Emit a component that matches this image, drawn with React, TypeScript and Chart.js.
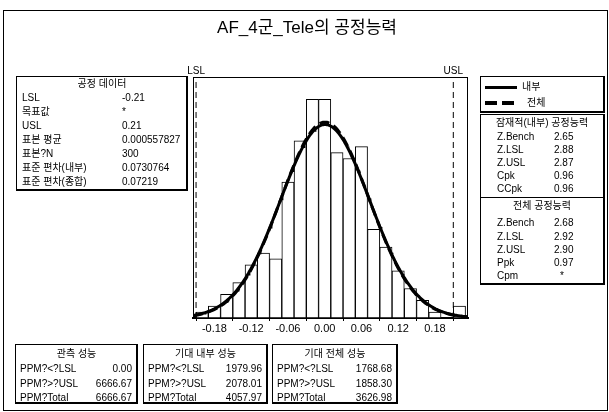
import React, { useEffect, useRef } from "react";
import { Chart, registerables } from "chart.js";

Chart.register(...registerables);

const TITLE = "AF_4군_Tele의 공정능력";
const LSL = -0.21;
const USL = 0.21;
const MEAN = 0.000557827;
const N = 300;
const SD_WITHIN = 0.0730764;
const SD_OVERALL = 0.07219;
const BIN_WIDTH = 0.02;
const X_MIN = -0.215;
const X_MAX = 0.234;
const Y_MAX = 40.8;
const X_TICKS = [-0.18, -0.12, -0.06, 0, 0.06, 0.12, 0.18];

const BIN_CENTERS = [-0.2, -0.18, -0.16, -0.14, -0.12, -0.1, -0.08, -0.06, -0.04, -0.02, 0, 0.02, 0.04, 0.06, 0.08, 0.1, 0.12, 0.14, 0.16, 0.18, 0.2, 0.22];
const BIN_COUNTS = [1, 2, 4, 6, 9, 11, 10, 23, 30, 37, 37, 28, 27, 29, 15, 12, 8, 5, 3, 1, 0, 2];

const PROCESS_DATA_LABELS = ["LSL", "목표값", "USL", "표본 평균", "표본?N", "표준 편차(내부)", "표준 편차(종합)"];
const PROCESS_DATA_VALUES = ["-0.21", "*", "0.21", "0.000557827", "300", "0.0730764", "0.07219"];
const WITHIN_LABELS = ["Z.Bench", "Z.LSL", "Z.USL", "Cpk", "CCpk"];
const WITHIN_VALUES = ["2.65", "2.88", "2.87", "0.96", "0.96"];
const OVERALL_LABELS = ["Z.Bench", "Z.LSL", "Z.USL", "Ppk", "Cpm"];
const OVERALL_VALUES = ["2.68", "2.92", "2.90", "0.97", "*"];
const PPM_LABELS = ["PPM?<?LSL", "PPM?>?USL", "PPM?Total"];
const OBSERVED_PPM = ["0.00", "6666.67", "6666.67"];
const EXP_WITHIN_PPM = ["1979.96", "2078.01", "4057.97"];
const EXP_OVERALL_PPM = ["1768.68", "1858.30", "3626.98"];

const FONT = '"Liberation Sans", Arial, "Noto Sans CJK KR", sans-serif';

function normalCurve(sd: number) {
  const pts: { x: number; y: number }[] = [];
  const steps = 300;
  for (let i = 0; i <= steps; i++) {
    const x = X_MIN + ((X_MAX - X_MIN) * i) / steps;
    const z = (x - MEAN) / sd;
    pts.push({ x, y: (N * BIN_WIDTH * Math.exp(-0.5 * z * z)) / (sd * Math.sqrt(2 * Math.PI)) });
  }
  return pts;
}

const framePlugin = {
  id: "frameAndSpec",
  afterDraw(chart: any) {
    const { ctx, chartArea, scales } = chart;
    ctx.save();
    ctx.strokeStyle = "#000";
    ctx.lineWidth = 1;
    ctx.strokeRect(chartArea.left + 0.5, chartArea.top + 0.5, chartArea.right - chartArea.left - 1, chartArea.bottom - chartArea.top);
    ctx.fillStyle = "#000";
    ctx.font = "10px " + FONT;
    ctx.textAlign = "center";
    ctx.textBaseline = "bottom";
    ctx.fillText("LSL", scales.x.getPixelForValue(LSL), chartArea.top - 1);
    ctx.fillText("USL", scales.x.getPixelForValue(USL), chartArea.top - 1);
    ctx.restore();
  },
};

const T: React.FC<{ x: number; y: number; align?: "left" | "right" | "center"; size?: number; children: any }> = ({ x, y, align = "left", size = 10, children }) => {
  const style: React.CSSProperties = {
    position: "absolute",
    top: y - 7,
    lineHeight: "14px",
    fontSize: size,
    fontFamily: FONT,
    whiteSpace: "nowrap",
    color: "#000",
  };
  if (align === "left") style.left = x;
  else if (align === "right") style.right = 609 - x;
  else {
    style.left = x - 120;
    style.width = 240;
    style.textAlign = "center";
  }
  return <div style={style}>{children}</div>;
};

const Box: React.FC<{ x: number; y: number; w: number; h: number }> = ({ x, y, w, h }) => (
  <div
    style={{
      position: "absolute",
      left: x,
      top: y,
      width: w,
      height: h,
      boxSizing: "border-box",
      border: "1px solid #000",
      borderRightWidth: 2,
      borderBottomWidth: 2,
    }}
  />
);

export default function App() {
  const canvasRef = useRef<HTMLCanvasElement | null>(null);

  useEffect(() => {
    if (!canvasRef.current) return;
    const chart = new Chart(canvasRef.current, {
      type: "bar",
      data: {
        datasets: [
          {
            type: "line",
            label: "내부",
            data: normalCurve(SD_WITHIN),
            borderColor: "#000",
            borderWidth: 3,
            pointRadius: 0,
            tension: 0,
            order: 0,
          } as any,
          {
            type: "line",
            label: "전체",
            data: normalCurve(SD_OVERALL),
            borderColor: "#000",
            borderWidth: 3,
            borderDash: [10, 5],
            pointRadius: 0,
            tension: 0,
            order: 1,
          } as any,
          {
            type: "line",
            label: "LSL",
            data: [
              { x: LSL, y: 0 },
              { x: LSL, y: Y_MAX },
            ],
            borderColor: "#000",
            borderWidth: 1,
            borderDash: [6, 4],
            pointRadius: 0,
            order: 2,
          } as any,
          {
            type: "line",
            label: "USL",
            data: [
              { x: USL, y: 0 },
              { x: USL, y: Y_MAX },
            ],
            borderColor: "#000",
            borderWidth: 1,
            borderDash: [6, 4],
            pointRadius: 0,
            order: 3,
          } as any,
          {
            type: "bar",
            label: "counts",
            data: BIN_CENTERS.map((c, i) => ({ x: c, y: BIN_COUNTS[i] })),
            backgroundColor: "#fff",
            borderColor: "#000",
            borderWidth: 1,
            borderSkipped: false,
            barPercentage: 1,
            categoryPercentage: 1,
            order: 4,
          } as any,
        ],
      },
      options: {
        responsive: false,
        animation: false,
        events: [],
        layout: { padding: { left: 193, right: 141, top: 77, bottom: 72 } },
        plugins: {
          legend: { display: false },
          tooltip: { enabled: false },
          title: { display: false },
        },
        scales: {
          x: {
            type: "linear",
            min: X_MIN,
            max: X_MAX,
            offset: false,
            afterBuildTicks: (scale: any) => {
              scale.ticks = X_TICKS.map((v) => ({ value: v }));
            },
            afterFit: (scale: any) => {
              scale.height = 22;
            },
            grid: {
              display: true,
              drawOnChartArea: false,
              drawTicks: true,
              tickLength: 3,
              color: "#000",
            },
            border: { display: true, color: "#000", width: 2 },
            ticks: {
              color: "#000",
              padding: 1,
              maxRotation: 0,
              autoSkip: false,
              font: { family: FONT, size: 11 },
              callback: (v: any) => Number(v).toFixed(2),
            },
          },
          y: {
            type: "linear",
            min: 0,
            max: Y_MAX,
            display: false,
          },
        },
      } as any,
      plugins: [framePlugin],
    });
    return () => chart.destroy();
  }, []);

  const rowsLeft = [98, 112, 126, 140, 154, 168, 182];
  const rowsWithin = [137, 150, 163, 176, 189];
  const rowsOverall = [223, 237, 250, 263, 276];
  const rowsPpm = [369, 384, 398];

  const ppmBoxes = [
    { title: "관측 성능", x: 15, w: 123, vals: OBSERVED_PPM },
    { title: "기대 내부 성능", x: 143, w: 125, vals: EXP_WITHIN_PPM },
    { title: "기대 전체 성능", x: 272, w: 126, vals: EXP_OVERALL_PPM },
  ];

  return (
    <div style={{ position: "absolute", left: 0, top: 0, width: 609, height: 412, background: "#fff", overflow: "hidden" }}>
      <canvas ref={canvasRef} width={609} height={412} style={{ position: "absolute", left: 0, top: 0, width: 609, height: 412 }} />
      <div
        style={{
          position: "absolute",
          left: 3,
          top: 10,
          width: 605,
          height: 401,
          boxSizing: "border-box",
          border: "1px solid #000",
        }}
      />
      <T x={307} y={28} align="center" size={17}>
        {TITLE}
      </T>

      {/* Process data box */}
      <Box x={16} y={76} w={172} h={115} />
      <T x={102} y={84} align="center">
        공정 데이터
      </T>
      {PROCESS_DATA_LABELS.map((l, i) => (
        <T key={"pl" + i} x={22} y={rowsLeft[i]}>
          {l}
        </T>
      ))}
      {PROCESS_DATA_VALUES.map((v, i) => (
        <T key={"pv" + i} x={122} y={rowsLeft[i]}>
          {v}
        </T>
      ))}

      {/* Legend box */}
      <Box x={480} y={76} w={125} h={37} />
      <div style={{ position: "absolute", left: 485, top: 86, width: 32, height: 3, background: "#000" }} />
      <div style={{ position: "absolute", left: 485, top: 101, width: 12, height: 4, background: "#000" }} />
      <div style={{ position: "absolute", left: 502, top: 101, width: 12, height: 4, background: "#000" }} />
      <T x={522} y={87}>
        내부
      </T>
      <T x={527} y={103}>
        전체
      </T>

      {/* Capability box */}
      <Box x={480} y={114} w={125} h={171} />
      <div style={{ position: "absolute", left: 481, top: 197, width: 122, height: 1, background: "#000" }} />
      <T x={542} y={123} align="center">
        잠재적(내부) 공정능력
      </T>
      {WITHIN_LABELS.map((l, i) => (
        <T key={"wl" + i} x={497} y={rowsWithin[i]}>
          {l}
        </T>
      ))}
      {WITHIN_VALUES.map((v, i) => (
        <T key={"wv" + i} x={554} y={rowsWithin[i]}>
          {v}
        </T>
      ))}
      <T x={542} y={206} align="center">
        전체 공정능력
      </T>
      {OVERALL_LABELS.map((l, i) => (
        <T key={"ol" + i} x={497} y={rowsOverall[i]}>
          {l}
        </T>
      ))}
      {OVERALL_VALUES.map((v, i) => (
        <T key={"ov" + i} x={v === "*" ? 560 : 554} y={rowsOverall[i]}>
          {v}
        </T>
      ))}

      {/* PPM boxes */}
      {ppmBoxes.map((b, bi) => (
        <React.Fragment key={"pb" + bi}>
          <Box x={b.x} y={344} w={b.w} h={60} />
          <T x={b.x + b.w / 2} y={354} align="center">
            {b.title}
          </T>
          {PPM_LABELS.map((l, i) => (
            <T key={"ppl" + i} x={b.x + 5} y={rowsPpm[i]}>
              {l}
            </T>
          ))}
          {b.vals.map((v, i) => (
            <T key={"ppv" + i} x={b.x + b.w - 6} y={rowsPpm[i]} align="right">
              {v}
            </T>
          ))}
        </React.Fragment>
      ))}
    </div>
  );
}
